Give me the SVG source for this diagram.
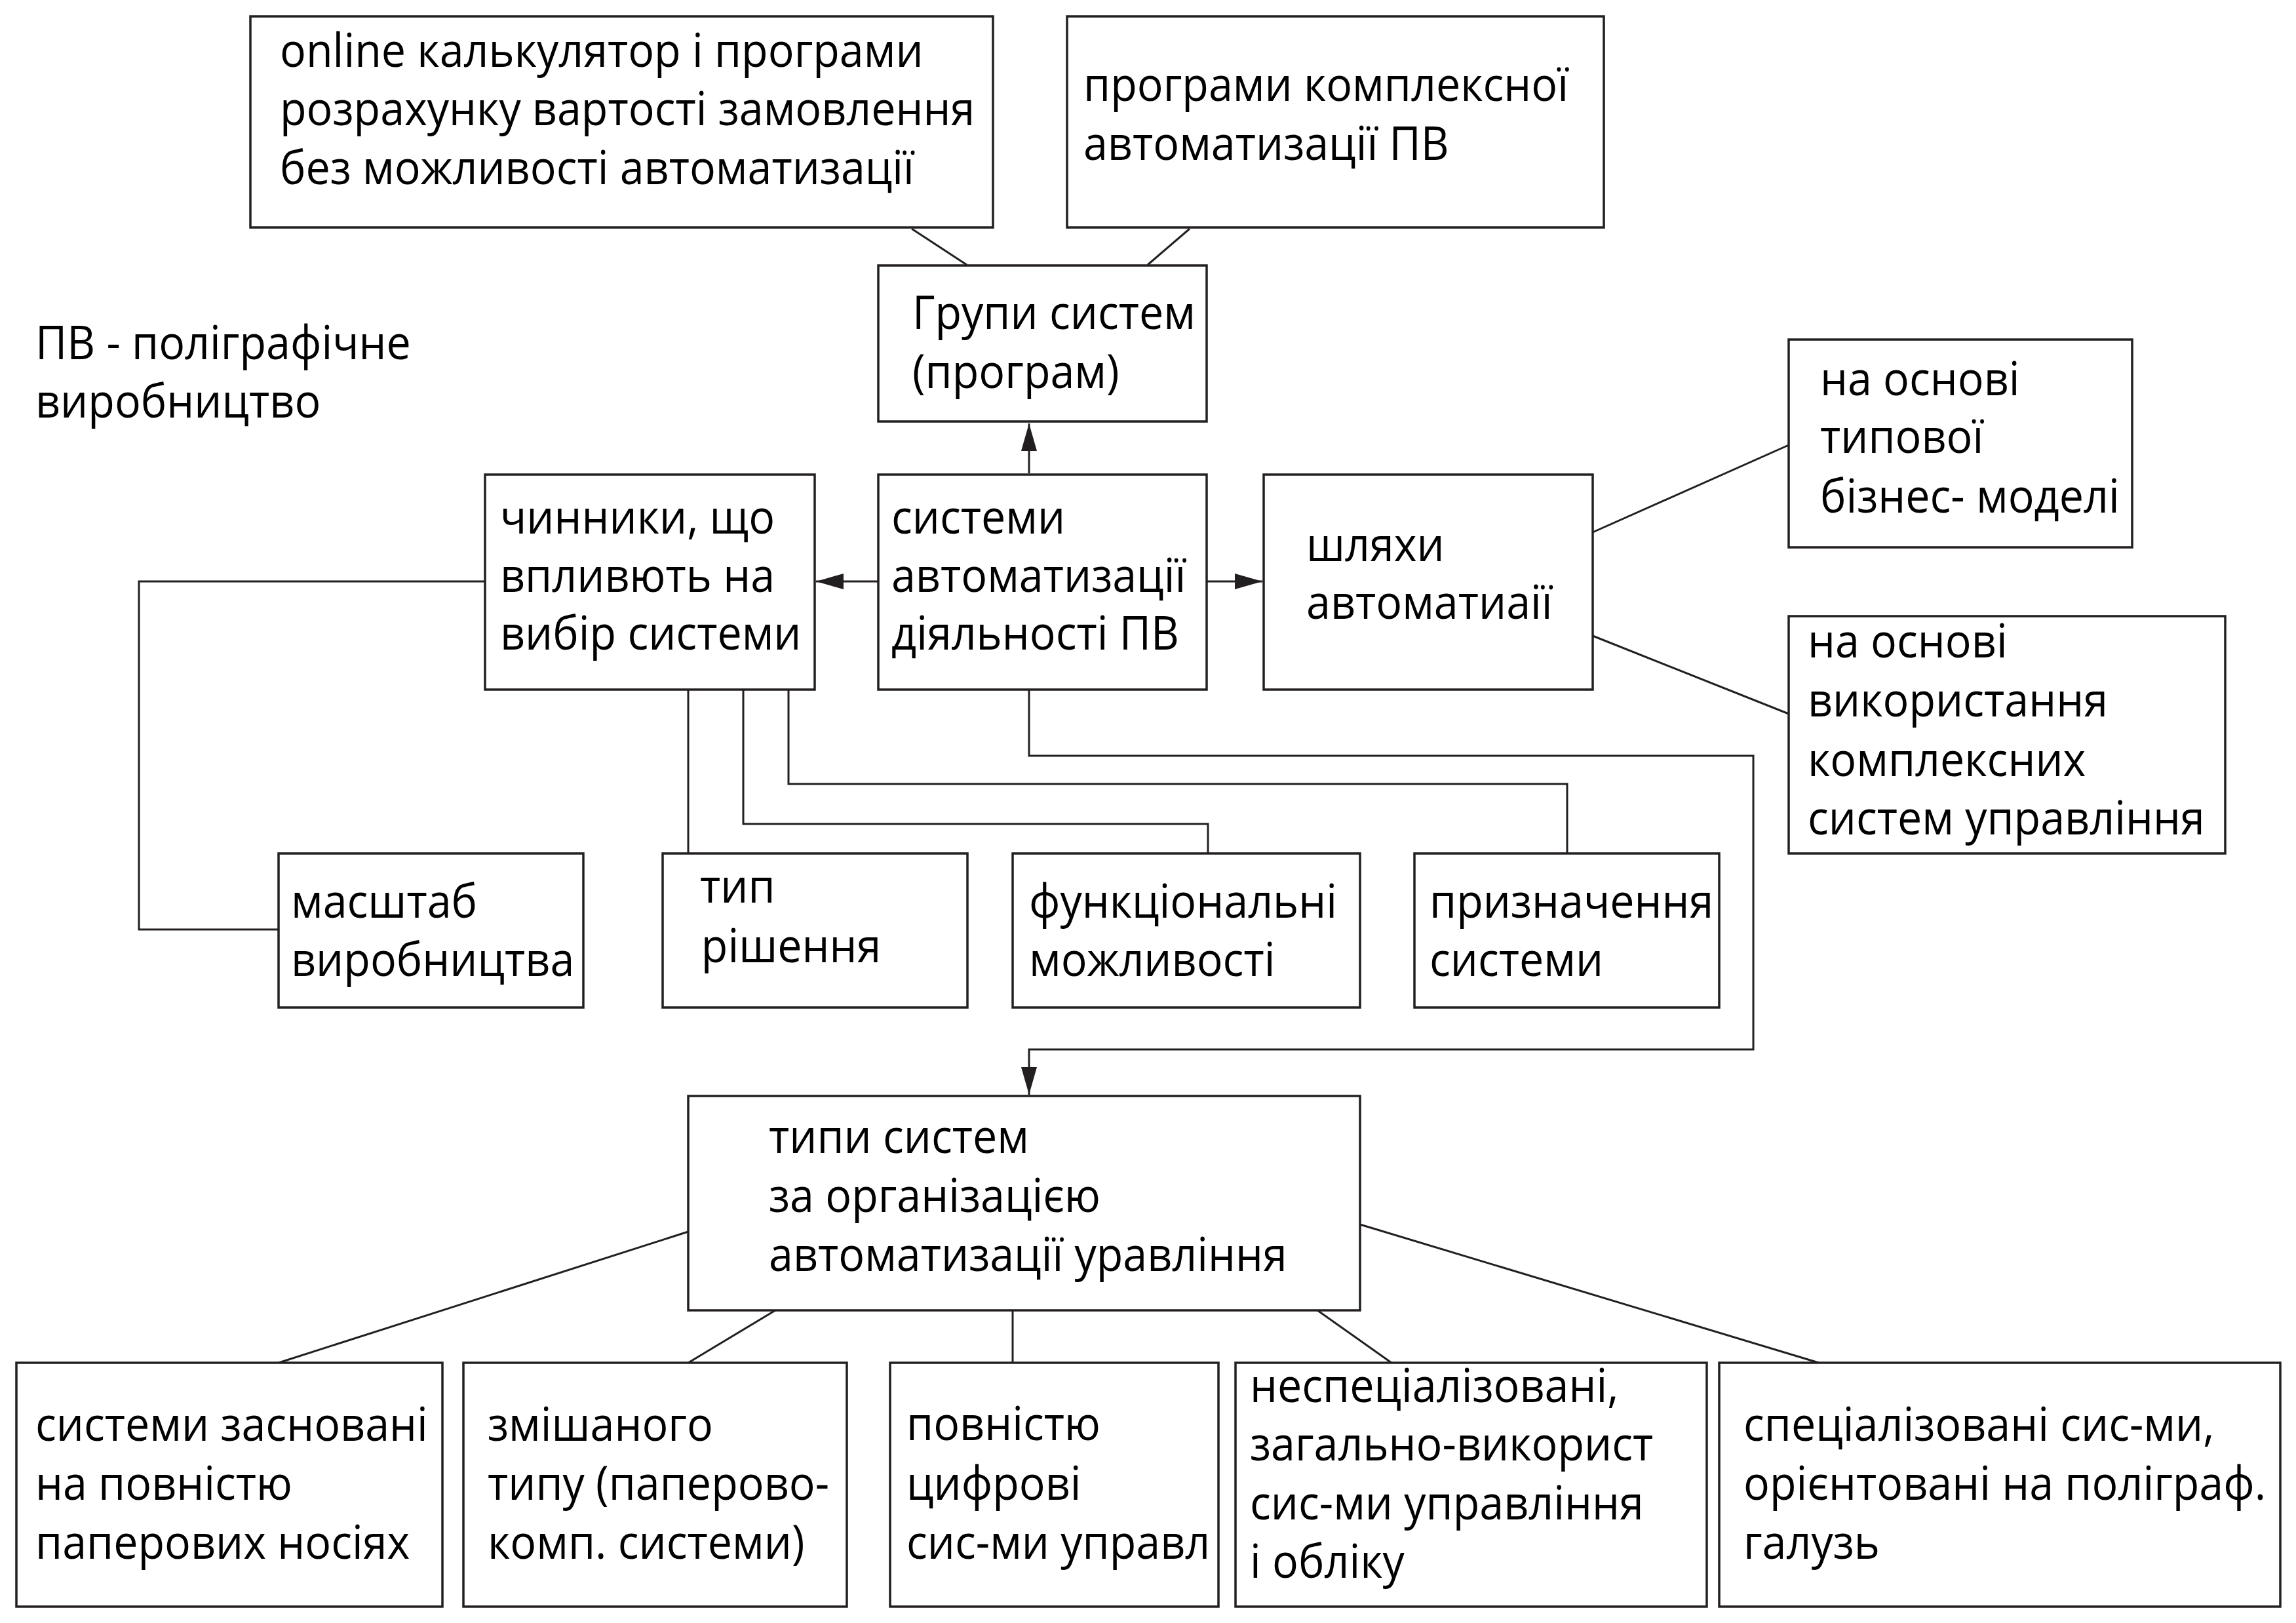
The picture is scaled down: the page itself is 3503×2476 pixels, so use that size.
<svg xmlns="http://www.w3.org/2000/svg" width="3503" height="2476" viewBox="0 0 3503 2476">
<style>
.box{fill:#fff;stroke:#231f20;stroke-width:3.5}
.ln{fill:none;stroke:#231f20;stroke-width:3}
text{font-family:"Open Sans","Noto Sans",sans-serif;font-size:71px;fill:#000}
</style>
<defs>
<marker id="ah" markerUnits="userSpaceOnUse" markerWidth="44" markerHeight="26" refX="42" refY="12" orient="auto">
<path d="M0,0 L42,12 L0,24 Z" fill="#231f20"/>
</marker>
</defs>
<rect width="3503" height="2476" fill="#fff"/>
<g id="connectors">
<line class="ln" x1="1391" y1="349" x2="1475" y2="404"/>
<line class="ln" x1="1815" y1="349" x2="1751" y2="404"/>
<line class="ln" x1="1570" y1="722" x2="1570" y2="646" marker-end="url(#ah)"/>
<line class="ln" x1="1340" y1="887" x2="1245" y2="887" marker-end="url(#ah)"/>
<line class="ln" x1="1841" y1="887" x2="1926" y2="887" marker-end="url(#ah)"/>
<polyline class="ln" points="740,887 212,887 212,1418 425,1418"/>
<line class="ln" x1="1050" y1="1052" x2="1050" y2="1302"/>
<polyline class="ln" points="1134,1052 1134,1257 1843,1257 1843,1302"/>
<polyline class="ln" points="1203,1052 1203,1196 2391,1196 2391,1302"/>
<polyline class="ln" points="1570,1052 1570,1153 2675,1153 2675,1601 1570,1601 1570,1670" marker-end="url(#ah)"/>
<line class="ln" x1="2430" y1="812" x2="2729" y2="679"/>
<line class="ln" x1="2430" y1="970" x2="2729" y2="1089"/>
<line class="ln" x1="1050" y1="1879" x2="425" y2="2079"/>
<line class="ln" x1="1183" y1="1999" x2="1050" y2="2079"/>
<line class="ln" x1="1545" y1="1999" x2="1545" y2="2079"/>
<line class="ln" x1="2010" y1="1999" x2="2123" y2="2079"/>
<line class="ln" x1="2075" y1="1868" x2="2775" y2="2079"/>
</g>
<g id="legend">
<g transform="translate(54 0) scale(0.935 1) translate(-54 0)">
<text x="54" y="548">ПВ - поліграфічне</text>
<text x="54" y="637">виробництво</text>
</g>
</g>
<g id="n-online">
<rect class="box" x="382" y="25" width="1133" height="322"/>
<g transform="translate(427 0) scale(0.935 1) translate(-427 0)">
<text x="427" y="102">online калькулятор і програми</text>
<text x="427" y="191">розрахунку вартості замовлення</text>
<text x="427" y="281">без можливості автоматизації</text>
</g>
</g>
<g id="n-complex">
<rect class="box" x="1628" y="25" width="819" height="322"/>
<g transform="translate(1653 0) scale(0.935 1) translate(-1653 0)">
<text x="1653" y="154">програми комплексної</text>
<text x="1653" y="244">автоматизації ПВ</text>
</g>
</g>
<g id="n-groups">
<rect class="box" x="1340" y="405" width="501" height="238"/>
<g transform="translate(1392 0) scale(0.935 1) translate(-1392 0)">
<text x="1392" y="502">Групи систем</text>
<text x="1392" y="592">(програм)</text>
</g>
</g>
<g id="n-factors">
<rect class="box" x="740" y="724" width="503" height="328"/>
<g transform="translate(763 0) scale(0.935 1) translate(-763 0)">
<text x="763" y="814">чинники, що</text>
<text x="763" y="903">впливють на</text>
<text x="763" y="991">вибір системи</text>
</g>
</g>
<g id="n-systems">
<rect class="box" x="1340" y="724" width="501" height="328"/>
<g transform="translate(1360 0) scale(0.935 1) translate(-1360 0)">
<text x="1360" y="814">системи</text>
<text x="1360" y="903">автоматизації</text>
<text x="1360" y="991">діяльності ПВ</text>
</g>
</g>
<g id="n-ways">
<rect class="box" x="1928" y="724" width="502" height="328"/>
<g transform="translate(1993 0) scale(0.935 1) translate(-1993 0)">
<text x="1993" y="856">шляхи</text>
<text x="1993" y="944">автоматиаії</text>
</g>
</g>
<g id="n-typical">
<rect class="box" x="2729" y="518" width="524" height="317"/>
<g transform="translate(2777 0) scale(0.935 1) translate(-2777 0)">
<text x="2777" y="603">на основі</text>
<text x="2777" y="691">типової</text>
<text x="2777" y="782">бізнес- моделі</text>
</g>
</g>
<g id="n-complexuse">
<rect class="box" x="2729" y="940" width="666" height="362"/>
<g transform="translate(2758 0) scale(0.935 1) translate(-2758 0)">
<text x="2758" y="1003">на основі</text>
<text x="2758" y="1093">використання</text>
<text x="2758" y="1184">комплексних</text>
<text x="2758" y="1273">систем управління</text>
</g>
</g>
<g id="n-scale">
<rect class="box" x="425" y="1302" width="465" height="235"/>
<g transform="translate(444 0) scale(0.935 1) translate(-444 0)">
<text x="444" y="1400">масштаб</text>
<text x="444" y="1489">виробництва</text>
</g>
</g>
<g id="n-type">
<rect class="box" x="1011" y="1302" width="465" height="235"/>
<g transform="translate(1068 0) scale(0.935 1) translate(-1068 0)">
<text x="1068" y="1377">тип</text>
<text x="1070" y="1468">рішення</text>
</g>
</g>
<g id="n-func">
<rect class="box" x="1545" y="1302" width="530" height="235"/>
<g transform="translate(1570 0) scale(0.935 1) translate(-1570 0)">
<text x="1570" y="1400">функціональні</text>
<text x="1570" y="1489">можливості</text>
</g>
</g>
<g id="n-purpose">
<rect class="box" x="2158" y="1302" width="465" height="235"/>
<g transform="translate(2181 0) scale(0.935 1) translate(-2181 0)">
<text x="2181" y="1400">призначення</text>
<text x="2181" y="1489">системи</text>
</g>
</g>
<g id="n-types">
<rect class="box" x="1050" y="1672" width="1025" height="327"/>
<g transform="translate(1173 0) scale(0.935 1) translate(-1173 0)">
<text x="1173" y="1759">типи систем</text>
<text x="1173" y="1849">за організацією</text>
<text x="1173" y="1939">автоматизації уравління</text>
</g>
</g>
<g id="n-paper">
<rect class="box" x="25" y="2079" width="650" height="372"/>
<g transform="translate(54 0) scale(0.935 1) translate(-54 0)">
<text x="54" y="2198">системи засновані</text>
<text x="54" y="2288">на повністю</text>
<text x="54" y="2378">паперових носіях</text>
</g>
</g>
<g id="n-mixed">
<rect class="box" x="707" y="2079" width="585" height="372"/>
<g transform="translate(744 0) scale(0.935 1) translate(-744 0)">
<text x="744" y="2198">змішаного</text>
<text x="744" y="2288">типу (паперово-</text>
<text x="744" y="2378">комп. системи)</text>
</g>
</g>
<g id="n-digital">
<rect class="box" x="1358" y="2079" width="501" height="372"/>
<g transform="translate(1383 0) scale(0.935 1) translate(-1383 0)">
<text x="1383" y="2197">повністю</text>
<text x="1383" y="2288">цифрові</text>
<text x="1383" y="2378">сис-ми управл</text>
</g>
</g>
<g id="n-general">
<rect class="box" x="1885" y="2079" width="719" height="372"/>
<g transform="translate(1907 0) scale(0.935 1) translate(-1907 0)">
<text x="1907" y="2139">неспеціалізовані,</text>
<text x="1907" y="2228">загально-використ</text>
<text x="1907" y="2318">сис-ми управління</text>
<text x="1907" y="2407">і обліку</text>
</g>
</g>
<g id="n-special">
<rect class="box" x="2623" y="2079" width="856" height="372"/>
<g transform="translate(2660 0) scale(0.935 1) translate(-2660 0)">
<text x="2660" y="2198">спеціалізовані сис-ми,</text>
<text x="2660" y="2288">орієнтовані на поліграф.</text>
<text x="2660" y="2378">галузь</text>
</g>
</g>
</svg>
